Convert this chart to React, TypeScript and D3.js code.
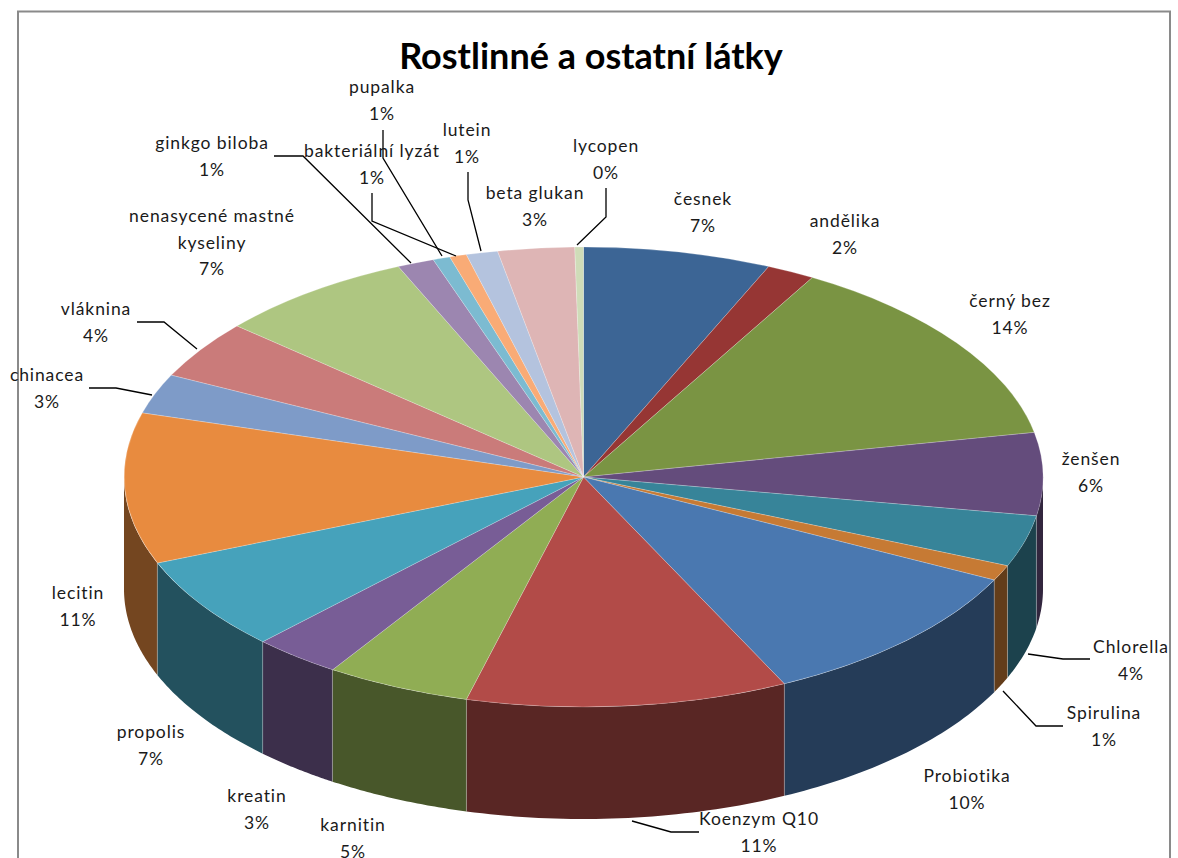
import React from "react";
import * as d3 from "d3";

// Share of each substance, in percent of all products
const names = ["česnek","andělika","černý bez","ženšen","Chlorella","Spirulina","Probiotika","Koenzym Q10","karnitin","kreatin","propolis","lecitin","chinacea","vláknina","nenasycené mastné kyseliny","ginkgo biloba","pupalka","bakteriální lyzát","lutein","beta glukan","lycopen"];
const shares = [6.6,1.7,13.6,5.8,3.6,1.1,10.4,11.3,5.1,3.1,6.6,10.6,2.8,4.1,7.0,1.3,0.6,0.6,1.1,2.7,0.3];
const colors = ["#3c6595","#963634","#7a9443","#644c7c","#378499","#c67a34","#4a78b0","#b24b48","#90ad54","#785d96","#46a2bb","#e88b3f","#7e9bc8","#ca7b7a","#aec681","#9c86b0","#7cbbd1","#f9ab76","#b4c3de","#deb5b5","#cfdcb8"];

// Centre of the first text line of every data label, with manual wrapping where needed
const labelAnchors: [number, number][] = [[703,199],[845,221],[1010,301],[1091,459],[1131,647],[1104,713],[967,776],[759,819],[353,825],[257,796],[151,732],[78,593],[47,375],[96,309],[212,216],[212,143],[382,87],[372,151],[467,130],[535,193],[606,146]];
const wrapped: Record<string, string[]> = { "nenasycené mastné kyseliny": ["nenasycené mastné", "kyseliny"] };

// Leader lines of the labels pulled away from their slices
const leaders: [number, number][][] = [
  [[606,188],[606,217],[577,245]],
  [[468,172],[468,200],[481,251]],
  [[383,130],[383,158],[442,256]],
  [[372,193],[372,221],[456,256]],
  [[274,156],[303,156],[411,263]],
  [[137,322],[164,322],[197,349]],
  [[89,388],[116,388],[152,395]],
  [[1090,659],[1063,659],[1028,654]],
  [[1063,726],[1036,726],[1003,691]],
  [[699,832],[671,832],[632,821]],
];

const W = 1178, H = 858;
const cx = 583.5, cy = 477, rx = 459.5, ry = 230, depth = 112;
const font = "Lato, 'Noto Sans', sans-serif";

const pie = d3.pie<number>().sort(null).value((d) => d);
const arcs = pie(shares);
const unitArc = d3.arc<d3.PieArcDatum<number>>().innerRadius(0).outerRadius(1);
const px = (a: number) => cx + rx * Math.sin(a);
const py = (a: number) => cy - ry * Math.cos(a);
const shade = (c: string) => {
  const r = d3.rgb(c);
  return d3.rgb(r.r * 0.5, r.g * 0.5, r.b * 0.5).formatHex();
};

// Outer wall of one slice, limited to the half of the rim that faces the viewer
function wallPath(start: number, end: number): string | null {
  const a0 = Math.max(start, Math.PI / 2);
  const a1 = Math.min(end, (3 * Math.PI) / 2);
  if (a1 <= a0) return null;
  const steps = d3.range(0, 41).map((i) => a0 + ((a1 - a0) * i) / 40);
  const area = d3.area<number>().x((a) => px(a)).y0((a) => py(a)).y1((a) => py(a) + depth);
  return area(steps);
}

export default function App() {
  const line = d3.line();
  return (
    <svg width={W} height={H} style={{ position: "absolute", left: 0, top: 0, background: "#fff" }}>
      <path d={`M18,${H}V11.5H1170V${H}`} fill="none" stroke="#8a8a8a" strokeWidth={2} />
      <text x={591} y={69} textAnchor="middle" fontFamily={font} fontWeight={700} fontSize={36} fill="#000">Rostlinné a ostatní látky</text>

      {arcs.map((d, i) => {
        const p = wallPath(d.startAngle, d.endAngle);
        return p ? <path key={i} d={p} fill={shade(colors[i])} /> : null;
      })}
      {/* Seams between neighbouring wall segments */}
      {arcs.map((d, i) =>
        d.startAngle > Math.PI / 2 && d.startAngle < (3 * Math.PI) / 2 ? (
          <line key={i} x1={px(d.startAngle)} x2={px(d.startAngle)} y1={py(d.startAngle)} y2={py(d.startAngle) + depth} stroke="#fff" strokeOpacity={0.25} strokeWidth={1} />
        ) : null
      )}
      {arcs.map((d, i) => (
        <path
          key={i}
          d={unitArc(d) as string}
          transform={`translate(${cx},${cy}) scale(${rx},${ry})`}
          fill={colors[i]}
          stroke="#fff"
          strokeOpacity={0.22}
          strokeWidth={1}
          vectorEffect="non-scaling-stroke"
        />
      ))}

      {leaders.map((pts, i) => (
        <path key={i} d={line(pts) as string} fill="none" stroke="#000" strokeWidth={1.3} />
      ))}

      {arcs.map((d, i) => {
        const lines = [...(wrapped[names[i]] ?? [names[i]]), `${Math.round((d.value / d3.sum(shares)) * 100)}%`];
        const [x, y] = labelAnchors[i];
        return (
          <text key={i} fontFamily={font} fontSize={17.5} letterSpacing={0.9} fill="#1a1a1a" textAnchor="middle">
            {lines.map((t, j) => (
              <tspan key={j} x={x} y={y + 6 + j * 26.5}>{t}</tspan>
            ))}
          </text>
        );
      })}
    </svg>
  );
}
